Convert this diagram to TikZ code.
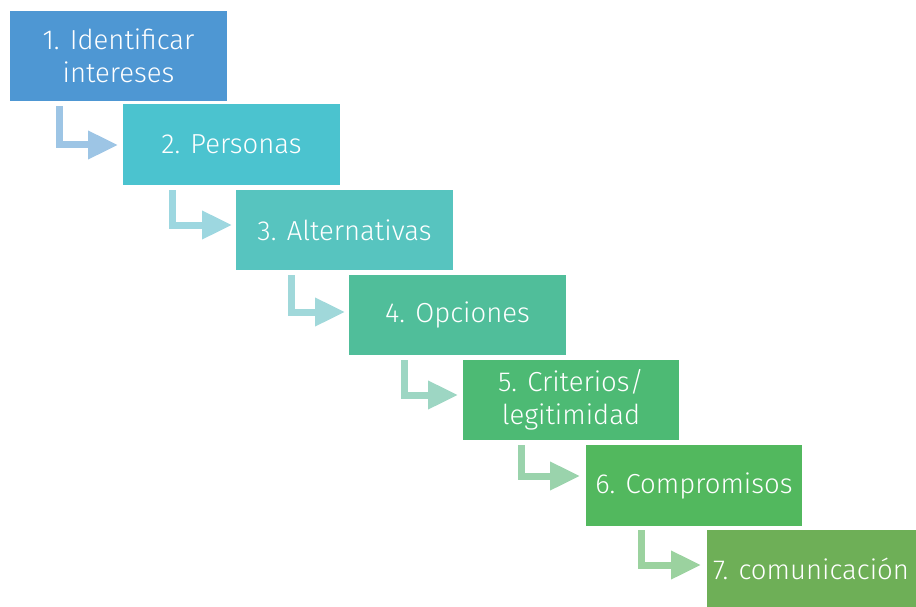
\documentclass[tikz,border=0pt]{standalone}
\usepackage{fontspec}
\setmainfont{Fira Sans Light}
\usetikzlibrary{arrows.meta,calc}

\definecolor{boxA}{HTML}{4E97D3}
\definecolor{boxB}{HTML}{4BC3CF}
\definecolor{boxC}{HTML}{57C4BF}
\definecolor{boxD}{HTML}{50BE9A}
\definecolor{boxE}{HTML}{4DBA74}
\definecolor{boxF}{HTML}{52B85E}
\definecolor{boxG}{HTML}{6EAF57}
\definecolor{arrA}{HTML}{9DC5E5}
\definecolor{arrB}{HTML}{9DD7E0}
\definecolor{arrC}{HTML}{A0D8DA}
\definecolor{arrD}{HTML}{9DD6C3}
\definecolor{arrE}{HTML}{9AD3AC}
\definecolor{arrF}{HTML}{9BD29F}

\tikzset{
  steptext/.style={text=white, font=\fontsize{27.5}{33}\selectfont},
  stepbox/.style={rectangle, draw=none, steptext, inner sep=0pt,
    minimum width=217pt, minimum height=80pt, align=center},
  elbow/.style={line width=7pt, line join=miter,
    -{Triangle[length=30pt,width=27pt]}}
}

\begin{document}
\begin{tikzpicture}[x=1pt,y=-1pt]
\useasboundingbox (0,0) rectangle (916,607);

% step boxes
\node[stepbox, fill=boxA, minimum height=90pt] (b1) at (118.5,56) {1. Identificar\\intereses};
\node[stepbox, fill=boxB, minimum height=81pt] (b2) at (231.5,144.5) {2. Personas};
\node[stepbox, fill=boxC] (b3) at (344.5,230) {3. Alternativas};
\node[stepbox, fill=boxD] (b4) at (457.5,315) {4. Opciones};
\node[stepbox, fill=boxE, minimum width=216pt] (b5) at (571,400) {5. Criterios/\\legitimidad};
\node[stepbox, fill=boxF, minimum width=216pt, minimum height=81pt] (b6) at (694,485.5) {6. Compromisos};
\node[rectangle, fill=boxG, minimum width=230pt, minimum height=90pt, inner sep=0pt, anchor=north west] (b7) at (707,530) {};
\node[steptext, anchor=west, inner sep=0pt] (t7) at (713,569) {7. comunicación};

% arrow end points
\coordinate (e1) at (118,145);
\coordinate (e2) at (232,225);
\coordinate (e3) at (345,312);
\coordinate (e4) at (458,395);
\coordinate (e5) at (580,476);
\coordinate (e6) at (701,565);

% elbow connectors
\draw[elbow, arrA] ($(b1.south west)+(49.5,5)$) |- (e1);
\draw[elbow, arrB] ($(b2.south west)+(50,5)$) |- (e2);
\draw[elbow, arrC] ($(b3.south west)+(55.5,5)$) |- (e3);
\draw[elbow, arrD] ($(b4.south west)+(55.5,5)$) |- (e4);
\draw[elbow, arrE] ($(b5.south west)+(58.5,5)$) |- (e5);
\draw[elbow, arrF] ($(b6.south west)+(55.5,4)$) |- (e6);
\end{tikzpicture}
\end{document}
